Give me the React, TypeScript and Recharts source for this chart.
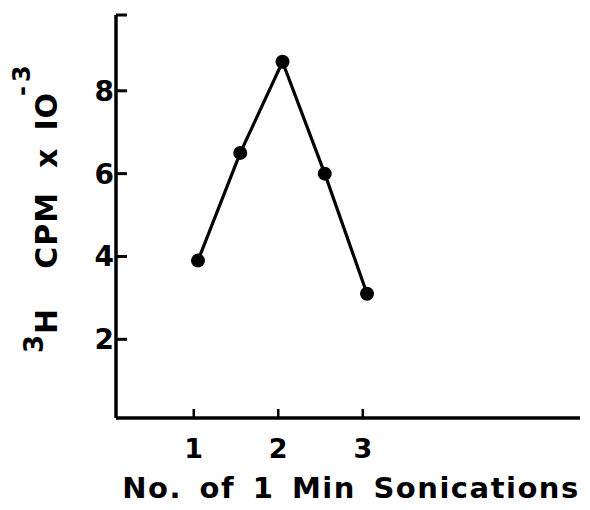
import React from 'react';
import { LineChart, Line, XAxis, YAxis } from 'recharts';

// number of 1-min sonications vs. tritium counts (cpm x 10^-3)
const sonications = [1.05, 1.55, 2.05, 2.55, 3.05];
const cpmThousands = [3.9, 6.5, 8.7, 6.0, 3.1];

const xTicks = [1, 2, 3];
const yTicks = [2, 4, 6, 8];
const yMax = 9.83;

const data = sonications.map((x, i) => ({ x, cpm: cpmThousands[i] }));

const INK = '#000';
const FONT = '"DejaVu Sans", sans-serif';

const XTitle = (props: any) => {
  const { viewBox } = props;
  const cx = viewBox.x + viewBox.width / 2 + 3;
  return (
    <text x={cx} y={viewBox.y + 80} textAnchor="middle" fontFamily={FONT} fontWeight="bold" fontSize={29} letterSpacing={1.5} wordSpacing={6} fill={INK}>
      No. of 1 Min Sonications
    </text>
  );
};

// rotated title, written bottom-up starting near the foot of the axis
const YTitle = (props: any) => {
  const { viewBox } = props;
  const cx = viewBox.x - 58;
  const cy = viewBox.y + viewBox.height - 65;
  return (
    <text
      x={cx}
      y={cy}
      transform={`rotate(-90, ${cx}, ${cy})`}
      textAnchor="start"
      fontFamily={FONT}
      fontWeight="bold"
      fontSize={30}
      letterSpacing={1}
      fill={INK}
    >
      <tspan fontSize={26} dy={-14}>3</tspan>
      <tspan dy={14}>H</tspan>
      <tspan dx={39}>CPM</tspan>
      <tspan dx={24}>x</tspan>
      <tspan dx={17}>IO</tspan>
      <tspan fontSize={24} dx={-4} dy={-27}>-</tspan>
      <tspan fontSize={24} dx={3}>3</tspan>
    </text>
  );
};

const tickFont = { fill: INK, fontFamily: FONT, fontWeight: 'bold' as const, fontSize: 27 };

export default function App() {
  return (
    <LineChart width={574} height={502} data={data} margin={{ top: 7, right: 2, left: 107, bottom: 91 }}>
      {/* negative tick sizes turn the tick marks inward, as on the original axes */}
      <XAxis
        type="number"
        dataKey="x"
        domain={[0.08, 5.57]}
        ticks={xTicks}
        allowDataOverflow
        height={1}
        tickSize={-9}
        tickMargin={30}
        tickLine={{ stroke: INK, strokeWidth: 2.5 }}
        tick={tickFont}
        axisLine={{ stroke: INK, strokeWidth: 3.5 }}
        label={<XTitle />}
      />
      <YAxis
        type="number"
        domain={[0.1, yMax]}
        ticks={[...yTicks, yMax]}
        tickFormatter={(v: number) => (v === yMax ? '' : String(v))}
        allowDataOverflow
        width={1}
        tickSize={-11}
        tickMargin={13}
        tickLine={{ stroke: INK, strokeWidth: 3 }}
        tick={{ ...tickFont, fontSize: 28 }}
        axisLine={{ stroke: INK, strokeWidth: 3.5 }}
        label={<YTitle />}
      />
      <Line
        type="linear"
        dataKey="cpm"
        stroke={INK}
        strokeWidth={3.2}
        dot={{ r: 7, fill: INK, stroke: INK, strokeWidth: 0 }}
        isAnimationActive={false}
      />
    </LineChart>
  );
}
